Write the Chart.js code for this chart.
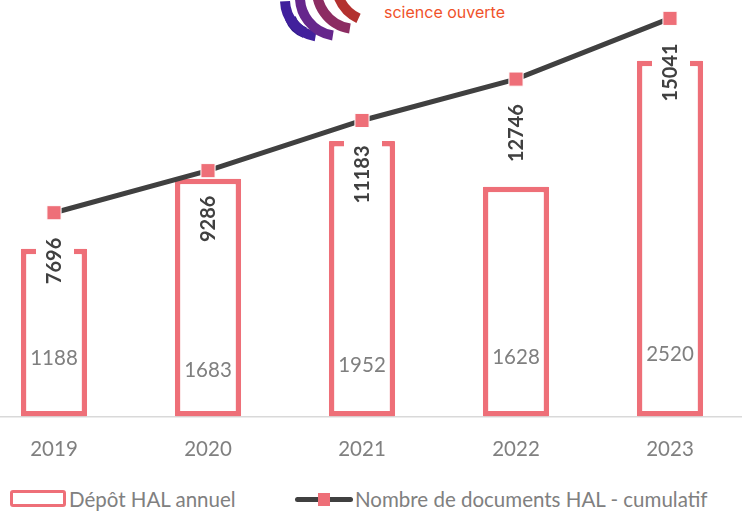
<!DOCTYPE html>
<html>
<head>
<meta charset="utf-8">
<script src="https://cdn.jsdelivr.net/npm/chart.js@4.4.1/dist/chart.umd.min.js"></script>
<style>
  html, body { margin: 0; padding: 0; background: #fff; }
  body { width: 742px; height: 514px; position: relative; overflow: hidden; font-family: Lato, sans-serif; }
  #wrap { position: absolute; left: -23px; top: -7px; width: 770px; height: 469px; }
  #logo { position: absolute; left: 0; top: 0; }
  #brand { position: absolute; left: 384px; top: 2px; font: 16px Inter, sans-serif; color: #f0522a; }
  .lbl { position: absolute; top: 486px; font-size: 20.5px; color: #808080; line-height: 26px; }
  #boxSym { position: absolute; left: 10px; top: 490px; width: 56px; height: 17px; box-sizing: border-box;
            border: 3px solid #ee6f78; border-radius: 3px; }
  #lineSym { position: absolute; left: 295px; top: 497px; width: 58px; height: 5px; background: #404040; border-radius: 3px; }
  #lineSym i { position: absolute; left: 23px; top: -4px; width: 12px; height: 13px; background: #ee6f78; }
</style>
</head>
<body>
<svg id="logo" width="742" height="50" viewBox="0 0 742 50">
  <g fill="none" stroke-linecap="butt">
    <path id="a1" stroke="#2b1a86" stroke-width="11"/>
    <path id="a2" stroke="#41209c" stroke-width="10"/>
    <path id="a3" stroke="#66268c" stroke-width="10"/>
    <path id="a4" stroke="#8c2c62" stroke-width="10"/>
    <path id="a5" stroke="#b3312f" stroke-width="10"/>
  </g>
</svg>
<div id="brand">science ouverte</div>
<div id="wrap"><canvas id="chart" width="770" height="469"></canvas></div>
<span id="boxSym"></span><span class="lbl" style="left:69px">Dépôt HAL annuel</span>
<span id="lineSym"><i></i></span><span class="lbl" style="left:355px">Nombre de documents HAL - cumulatif</span>
<script>
const years = ["2019", "2020", "2021", "2022", "2023"];
const annualDeposits = [1188, 1683, 1952, 1628, 2520];
const cumulativeDocs = [7696, 9286, 11183, 12746, 15041];

// logo arcs (decoration only)
function arcPath(cx, cy, r, a1, a2) {
  const p = a => [cx + r * Math.cos(a * Math.PI / 180), cy + r * Math.sin(a * Math.PI / 180)];
  const s = p(a1), e = p(a2);
  return `M${s[0]},${s[1]} A${r},${r} 0 0 1 ${e[0]},${e[1]}`;
}
document.getElementById('a1').setAttribute('d', arcPath(313, 10, 24, 110, 160));
document.getElementById('a2').setAttribute('d', arcPath(322, 0, 37, 100, 178));
document.getElementById('a3').setAttribute('d', arcPath(339, -3, 39, 99, 185));
document.getElementById('a4').setAttribute('d', arcPath(356, -10, 39, 99, 190));
document.getElementById('a5').setAttribute('d', arcPath(375, -17, 39, 115, 200));

const pink = '#ee6f78';
const dark = '#404040';

// value labels inside the bars, lifted from the base
const insideLift = [58, 46, 51, 59, 62];

const labelsPlugin = {
  id: 'labelsPlugin',
  afterDatasetsDraw(chart) {
    const ctx = chart.ctx;
    const bars = chart.getDatasetMeta(0).data;
    const pts = chart.getDatasetMeta(1).data;
    ctx.save();
    ctx.font = '20.5px Lato';
    ctx.fillStyle = '#7f7f7f';
    ctx.textAlign = 'center';
    ctx.textBaseline = 'middle';
    bars.forEach((b, i) => {
      ctx.fillText(String(annualDeposits[i]), b.x, b.base - insideLift[i]);
    });
    ctx.font = 'bold 20px Lato';
    pts.forEach((p, i) => {
      const txt = String(cumulativeDocs[i]);
      const w = ctx.measureText(txt).width;
      ctx.save();
      ctx.translate(p.x + 1, p.y + 25);
      ctx.rotate(-Math.PI / 2);
      ctx.fillStyle = '#fff';
      ctx.fillRect(-w - 5, -19, w + 10, 38);
      ctx.fillStyle = dark;
      ctx.textAlign = 'right';
      ctx.textBaseline = 'middle';
      ctx.fillText(txt, 0, 0);
      ctx.restore();
    });
    ctx.restore();
  }
};

function draw() {
  new Chart(document.getElementById('chart'), {
    data: {
      labels: years,
      datasets: [
        {
          type: 'bar',
          label: 'Dépôt HAL annuel',
          data: annualDeposits,
          backgroundColor: '#fff',
          borderColor: pink,
          borderWidth: 5.5,
          borderSkipped: false,
          borderRadius: 1,
          barPercentage: 0.43,
          categoryPercentage: 1,
          yAxisID: 'y',
          order: 2
        },
        {
          type: 'line',
          label: 'Nombre de documents HAL - cumulatif',
          data: cumulativeDocs,
          borderColor: dark,
          borderWidth: 5,
          pointStyle: 'rect',
          pointRadius: 10,
          pointBackgroundColor: pink,
          pointBorderColor: '#fff',
          pointBorderWidth: 1,
          yAxisID: 'y1',
          order: 1
        }
      ]
    },
    options: {
      responsive: false,
      animation: false,
      layout: { padding: 0, autoPadding: false },
      plugins: { legend: { display: false }, tooltip: { enabled: false } },
      scales: {
        x: {
          grid: { display: false, drawTicks: true, tickLength: 21, tickColor: 'transparent' },
          border: { display: true, color: '#d9d9d9', width: 1.5 },
          ticks: { color: '#808080', font: { family: 'Lato', size: 20.5 }, padding: 0 }
        },
        y: { display: false, min: 0, max: 3000 },
        y1: { display: false, min: 0, max: 16000 }
      }
    },
    plugins: [labelsPlugin]
  });
}

if (document.fonts && document.fonts.load) {
  Promise.all([document.fonts.load('20px Lato'), document.fonts.load('bold 20px Lato')]).then(draw, draw);
} else {
  draw();
}
</script>
</body>
</html>
